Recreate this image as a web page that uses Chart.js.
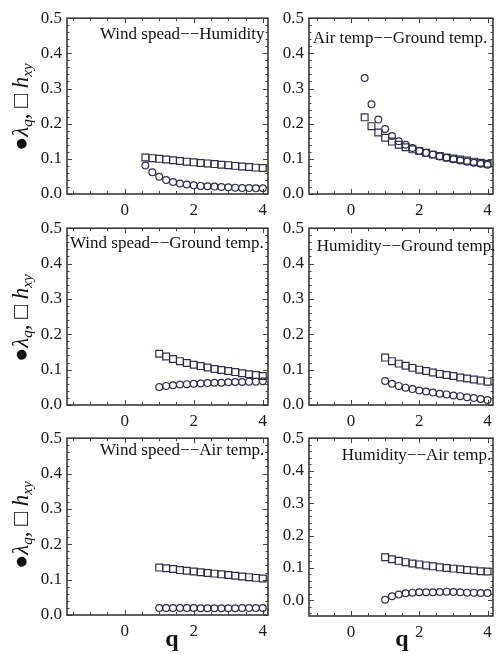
<!DOCTYPE html>
<html>
<head>
<meta charset="utf-8">
<script src="https://cdn.jsdelivr.net/npm/chart.js@4/dist/chart.umd.min.js"></script>
<style>
  html, body { margin:0; padding:0; background:#fff; }
  body { width:499px; height:655px; position:relative; overflow:hidden; font-family:'Liberation Serif', serif; }
  canvas { position:absolute; }
  .ann { position:absolute; font-size:17px; line-height:17px; color:#111; white-space:nowrap; }
  .ylab { position:absolute; font-size:23px; line-height:23px; color:#111; white-space:nowrap;
          transform:translate(-50%,-50%) rotate(-90deg); }
  .ylab sub { font-size:15px; vertical-align:-4px; line-height:0; }
  .qlab { position:absolute; font-size:24px; line-height:24px; font-weight:bold; color:#111; transform:translateX(-50%); }
</style>
</head>
<body>
<script>
// ---------------- data ----------------
const qWH = [0.6,0.8,1.0,1.2,1.4,1.6,1.8,2.0,2.2,2.4,2.6,2.8,3.0,3.2,3.4,3.6,3.8,4.0];
const lamWH = [0.081,0.062,0.049,0.040,0.034,0.030,0.027,0.025,0.023,0.022,0.021,0.020,0.019,0.018,0.017,0.017,0.016,0.016];
const hWH   = [0.104,0.102,0.100,0.098,0.096,0.094,0.092,0.090,0.088,0.087,0.085,0.083,0.082,0.080,0.078,0.077,0.075,0.074];

const qAG = [0.4,0.6,0.8,1.0,1.2,1.4,1.6,1.8,2.0,2.2,2.4,2.6,2.8,3.0,3.2,3.4,3.6,3.8,4.0];
const lamAG = [0.330,0.255,0.212,0.185,0.165,0.150,0.140,0.131,0.123,0.117,0.112,0.107,0.103,0.099,0.095,0.092,0.089,0.086,0.083];
const hAG   = [0.218,0.193,0.175,0.160,0.149,0.140,0.133,0.127,0.122,0.117,0.112,0.108,0.104,0.101,0.098,0.095,0.092,0.089,0.086];

const q16 = [1.0,1.2,1.4,1.6,1.8,2.0,2.2,2.4,2.6,2.8,3.0,3.2,3.4,3.6,3.8,4.0];
const lamWG = [0.051,0.054,0.056,0.058,0.059,0.060,0.061,0.062,0.063,0.063,0.064,0.065,0.065,0.066,0.066,0.067];
const hWG   = [0.145,0.137,0.130,0.124,0.119,0.114,0.110,0.106,0.102,0.099,0.096,0.093,0.090,0.087,0.085,0.082];

const lamHG = [0.068,0.060,0.054,0.049,0.045,0.041,0.038,0.035,0.032,0.030,0.027,0.025,0.022,0.020,0.017,0.014];
const hHG   = [0.134,0.124,0.117,0.111,0.105,0.100,0.096,0.092,0.088,0.085,0.082,0.078,0.075,0.072,0.069,0.066];

const lamWA = [0.020,0.020,0.020,0.020,0.020,0.020,0.019,0.019,0.019,0.019,0.019,0.019,0.020,0.020,0.020,0.020];
const hWA   = [0.134,0.132,0.130,0.127,0.125,0.123,0.121,0.119,0.117,0.115,0.113,0.111,0.109,0.107,0.105,0.103];

const lamHA = [0.002,0.013,0.018,0.022,0.024,0.025,0.025,0.025,0.026,0.027,0.026,0.025,0.024,0.024,0.023,0.023];
const hHA   = [0.133,0.127,0.122,0.118,0.114,0.111,0.108,0.105,0.102,0.100,0.098,0.096,0.094,0.092,0.090,0.089];

const panelTitles = ["Wind spead\u2212\u2212Humidity", "Air temp\u2212\u2212Ground temp.",
                     "Wind spead\u2212\u2212Ground temp.", "Humidity\u2212\u2212Ground temp.",
                     "Wind speed\u2212\u2212Air temp.", "Humidity\u2212\u2212Air temp."];
const xTickLabels = [0, 2, 4];
const yTickLabels = [0.0, 0.1, 0.2, 0.3, 0.4, 0.5];
const xAxisTitle = "q";

// ---------------- layout ----------------
const panels = [
  {q:qWH, lam:lamWH, h:hWH, L:66.7, R:272.7, T:15,  B:194, xmin:-1.67, xmax:4.15, ymin:0, ann:[100,39]},
  {q:qAG, lam:lamAG, h:hAG, L:309.3, R:498, T:15,  B:194, xmin:-1.23, xmax:4.16, ymin:0, ann:[312.7,43]},
  {q:q16, lam:lamWG, h:hWG, L:66.7, R:272.7, T:225, B:405, xmin:-1.67, xmax:4.15, ymin:0, ann:[70,248]},
  {q:q16, lam:lamHG, h:hHG, L:309.3, R:498, T:225, B:405, xmin:-1.23, xmax:4.16, ymin:0, ann:[316.7,251]},
  {q:q16, lam:lamWA, h:hWA, L:66.7, R:272.7, T:435, B:615, xmin:-1.67, xmax:4.15, ymin:0, ann:[100,455]},
  {q:q16, lam:lamHA, h:hHA, L:309.3, R:498, T:435, B:616, xmin:-1.23, xmax:4.16, ymin:-0.048, ann:[341.7,460]}
];

const WY = 50, PADT = 12, PADR = 1, HX = 40;
const markColor = '#2e2e48';

const frameTicks = {
  id: 'frameTicks',
  afterDatasetsDraw(chart) {
    const {ctx, chartArea:a, scales:{x, y}} = chart;
    ctx.save();
    ctx.strokeStyle = '#444';
    ctx.lineWidth = 1;
    const seg = (x1,y1,x2,y2) => { ctx.beginPath(); ctx.moveTo(x1,y1); ctx.lineTo(x2,y2); ctx.stroke(); };
    for (let k = Math.ceil(x.min*2); k <= Math.floor(x.max*2); k++) {
      const v = k/2;
      const px = Math.round(x.getPixelForValue(v)) + 0.5;
      const len = xTickLabels.includes(v) ? 5 : 3;
      seg(px, a.bottom, px, a.bottom - len);
      seg(px, a.top, px, a.top + len);
    }
    for (let k = Math.ceil(y.min*50 - 1e-6); k <= Math.floor(y.max*50 + 1e-6); k++) {
      const v = k/50;
      const py = Math.round(y.getPixelForValue(v)) + 0.5;
      const len = (k % 5 === 0) ? 5 : 2.5;
      seg(a.left, py, a.left + len, py);
      seg(a.right, py, a.right - len, py);
    }
    ctx.strokeStyle = '#3a3a3a';
    ctx.lineWidth = 1.6;
    ctx.strokeRect(a.left, a.top, a.right - a.left, a.bottom - a.top);
    ctx.restore();
  }
};

panels.forEach((p, i) => {
  const cv = document.createElement('canvas');
  const W = WY + (p.R - p.L) + PADR;
  const H = PADT + (p.B - p.T) + HX;
  cv.width = Math.round(W); cv.height = Math.round(H);
  cv.style.left = (p.L - WY) + 'px';
  cv.style.top = (p.T - PADT) + 'px';
  document.body.appendChild(cv);

  new Chart(cv, {
    type: 'scatter',
    data: {
      datasets: [
        { label: 'lambda', data: p.q.map((q,j) => ({x:q, y:p.lam[j]})),
          pointStyle: 'circle', pointRadius: 3.4, pointBorderWidth: 1.2,
          pointBackgroundColor: 'rgba(0,0,0,0)', pointBorderColor: markColor },
        { label: 'h', data: p.q.map((q,j) => ({x:q, y:p.h[j]})),
          pointStyle: 'rect', pointRadius: 4.8, pointBorderWidth: 1.2,
          pointBackgroundColor: 'rgba(0,0,0,0)', pointBorderColor: markColor }
      ]
    },
    options: {
      responsive: false, animation: false, devicePixelRatio: 1,
      layout: { padding: { top: PADT, right: PADR, left: 0, bottom: 0 } },
      plugins: { legend: {display:false}, tooltip: {enabled:false} },
      scales: {
        x: {
          type: 'linear', min: p.xmin, max: p.xmax,
          grid: { display: false, drawTicks: false },
          border: { display: false },
          afterBuildTicks: s => { s.ticks = xTickLabels.map(v => ({value: v})); },
          afterFit: s => { s.height = HX; },
          ticks: { padding: 6, color: '#1a1a1a', font: { family: 'Liberation Serif', size: 17 },
                   callback: v => String(v), maxRotation: 0, autoSkip: false }
        },
        y: {
          type: 'linear', min: p.ymin, max: 0.5,
          grid: { display: false, drawTicks: false },
          border: { display: false },
          afterBuildTicks: s => { s.ticks = yTickLabels.map(v => ({value: v})); },
          afterFit: s => { s.width = WY; },
          ticks: { padding: 5, color: '#1a1a1a', font: { family: 'Liberation Serif', size: 17 },
                   callback: v => Number(v).toFixed(1), autoSkip: false }
        }
      }
    },
    plugins: [frameTicks]
  });

  const ann = document.createElement('div');
  ann.className = 'ann';
  ann.textContent = panelTitles[i];
  ann.style.left = p.ann[0] + 'px';
  ann.style.top = (p.ann[1] - 14.2) + 'px';
  document.body.appendChild(ann);
});

[107, 318, 525].forEach(yc => {
  const d = document.createElement('div');
  d.className = 'ylab';
  d.style.left = '20px';
  d.style.top = yc + 'px';
  d.innerHTML = '\u25CF<i>\u03BB</i><sub><i>q</i></sub>, \u25A1 <i>h</i><sub><i>xy</i></sub>';
  document.body.appendChild(d);
});

[[172, 626], [402, 626]].forEach(([xc, top]) => {
  const d = document.createElement('div');
  d.className = 'qlab';
  d.style.left = xc + 'px';
  d.style.top = top + 'px';
  d.textContent = xAxisTitle;
  document.body.appendChild(d);
});
</script>
</body>
</html>
